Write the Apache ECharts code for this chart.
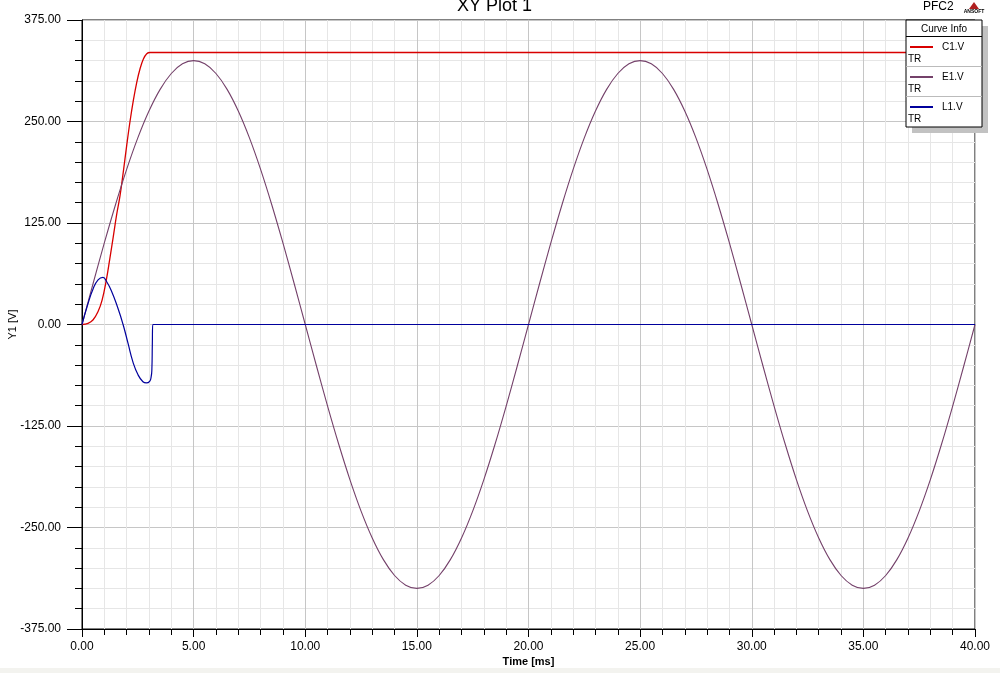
<!DOCTYPE html>
<html><head><meta charset="utf-8">
<script src="https://cdn.jsdelivr.net/npm/echarts@6/dist/echarts.min.js"></script>
<style>html,body{margin:0;padding:0;background:#fff}#c{width:1000px;height:673px}</style>
</head><body><div id="c"></div>
<script>
// ---- data ----
const xTicks = [0, 5, 10, 15, 20, 25, 30, 35, 40];            // Time [ms]
const yTicks = [-375, -250, -125, 0, 125, 250, 375];          // Y1 [V]
const seriesNames = ['C1.V', 'E1.V', 'L1.V'];

// C1.V (capacitor voltage)
const c1Time   = [0, 0.27, 0.49, 0.72, 0.9, 1.09, 1.24, 1.4, 1.55, 1.7, 1.85, 2.0, 2.15, 2.3, 2.45, 2.6, 2.75, 2.9, 3.05, 3.2, 40];
const c1Values = [0, 1.5, 5.5, 16, 30, 55, 80, 108, 135, 158, 188, 220, 250, 276, 298, 315, 327, 333.5, 335, 335, 335];

// E1.V (source voltage), sampled every 0.5 ms from 0 to 40 ms
const e1Step = 0.5;
const e1Values = [
  0, 50.8, 100.4, 147.5, 191.0, 229.8, 262.9, 289.6, 309.1, 321.0,
  325.0, 321.0, 309.1, 289.6, 262.9, 229.8, 191.0, 147.5, 100.4, 50.8,
  0, -50.8, -100.4, -147.5, -191.0, -229.8, -262.9, -289.6, -309.1, -321.0,
  -325.0, -321.0, -309.1, -289.6, -262.9, -229.8, -191.0, -147.5, -100.4, -50.8,
  0, 50.8, 100.4, 147.5, 191.0, 229.8, 262.9, 289.6, 309.1, 321.0,
  325.0, 321.0, 309.1, 289.6, 262.9, 229.8, 191.0, 147.5, 100.4, 50.8,
  0, -50.8, -100.4, -147.5, -191.0, -229.8, -262.9, -289.6, -309.1, -321.0,
  -325.0, -321.0, -309.1, -289.6, -262.9, -229.8, -191.0, -147.5, -100.4, -50.8,
  0
];

// L1.V (inductor voltage)
const l1Time   = [0, 0.25, 0.5, 0.72, 0.94, 1.1, 1.31, 1.61, 1.84, 2.06, 2.28, 2.51, 2.73, 2.88, 3.03, 3.1, 3.13, 3.15, 3.17, 40];
const l1Values = [0, 24, 44, 55, 58, 53, 42, 20, 0, -23, -46, -62, -70.5, -72, -70, -64, -55, -25, 0, 0];

// ---- build ----
const zip = (t, v) => t.map((x, i) => [x, v[i]]);
const e1Data = e1Values.map((v, i) => [i * e1Step, v]);

const chart = echarts.init(document.getElementById('c'), null, {renderer: 'canvas'});
const FONT = 'Arial, "Liberation Sans", sans-serif';

chart.setOption({
  animation: false,
  backgroundColor: '#ffffff',
  title: {
    text: 'XY Plot 1', left: 457, top: -3, padding: 0,
    textStyle: {fontFamily: FONT, fontSize: 18, fontWeight: 'normal', color: '#000'}
  },
  grid: {left: 82, right: 25, top: 20, bottom: 44, containLabel: false, outerBoundsMode: 'none',
         show: true, borderColor: '#000', borderWidth: 1, backgroundColor: '#fff'},
  legend: {
    orient: 'vertical', left: 910, top: 41, padding: 0,
    itemWidth: 23, itemHeight: 2, itemGap: 18, icon: 'rect', selectedMode: false,
    textStyle: {fontFamily: FONT, fontSize: 10, color: '#000', lineHeight: 12, padding: [0, 0, 0, 4]},
    data: seriesNames, z: 6
  },
  xAxis: {
    type: 'value', min: xTicks[0], max: xTicks[xTicks.length - 1], interval: xTicks[1] - xTicks[0],
    name: 'Time [ms]', nameLocation: 'middle', nameGap: 27, nameMoveOverlap: false,
    nameTextStyle: {fontFamily: FONT, fontSize: 11, fontWeight: 'bold', color: '#000'},
    axisLine: {show: true, onZero: false, lineStyle: {color: '#000', width: 1}},
    axisTick: {show: true, inside: false, length: 8, lineStyle: {color: '#000'}},
    minorTick: {show: true, splitNumber: 5, length: 6, lineStyle: {color: '#000'}},
    splitLine: {show: true, lineStyle: {color: '#c6c6c6', width: 1}},
    minorSplitLine: {show: true, lineStyle: {color: '#e6e6e6', width: 1}},
    axisLabel: {formatter: v => v.toFixed(2), margin: 12, fontFamily: FONT, fontSize: 12, color: '#000'}
  },
  yAxis: {
    type: 'value', min: yTicks[0], max: yTicks[yTicks.length - 1], interval: yTicks[1] - yTicks[0],
    name: 'Y1 [V]', nameLocation: 'middle', nameGap: 64, nameRotate: 90, nameMoveOverlap: false,
    nameTextStyle: {fontFamily: FONT, fontSize: 11, color: '#000'},
    axisLine: {show: true, onZero: false, lineStyle: {color: '#000', width: 1}},
    axisTick: {show: true, inside: false, length: 15, lineStyle: {color: '#000'}},
    minorTick: {show: true, splitNumber: 5, length: 7, lineStyle: {color: '#000'}},
    splitLine: {show: true, lineStyle: {color: '#c6c6c6', width: 1}},
    minorSplitLine: {show: true, lineStyle: {color: '#e6e6e6', width: 1}},
    axisLabel: {formatter: v => v.toFixed(2), margin: 21, fontFamily: FONT, fontSize: 12, color: '#000'}
  },
  series: [
    {name: seriesNames[0], type: 'line', data: zip(c1Time, c1Values), showSymbol: false,
     smooth: 0.4, color: '#d80000', lineStyle: {width: 1.3, color: '#d80000'}, z: 2},
    {name: seriesNames[1], type: 'line', data: e1Data, showSymbol: false,
     smooth: 0.4, color: '#74416a', lineStyle: {width: 1.1, color: '#74416a'}, z: 3},
    {name: seriesNames[2], type: 'line', data: zip(l1Time, l1Values), showSymbol: false,
     smooth: 0.5, color: '#00009c', lineStyle: {width: 1.2, color: '#00009c'}, z: 4}
  ],
  graphic: [
    {type: 'rect', shape: {x: 0, y: 668, width: 1000, height: 5}, style: {fill: '#f3f3ef'}, z: 0, silent: true},
    {type: 'text', x: 923, y: 7, style: {text: 'PFC2', font: '12px ' + FONT, fill: '#000', textVerticalAlign: 'middle'}, z: 10},
    {type: 'polygon', shape: {points: [[974, 2], [969, 9], [979, 9]]}, style: {fill: '#b02020'}, z: 10},
    {type: 'text', x: 974, y: 12, style: {text: 'ANSOFT', font: 'bold 5px ' + FONT, fill: '#000', textAlign: 'center', textVerticalAlign: 'middle'}, z: 10},
    {type: 'rect', shape: {x: 912, y: 26, width: 76, height: 107}, style: {fill: '#c2c2c2'}, z: 5},
    {type: 'rect', shape: {x: 906, y: 20, width: 76, height: 107}, style: {fill: '#fff', stroke: '#000', lineWidth: 1}, z: 5},
    {type: 'text', x: 944, y: 29, style: {text: 'Curve Info', font: '10px ' + FONT, fill: '#000', textAlign: 'center', textVerticalAlign: 'middle'}, z: 7},
    {type: 'line', shape: {x1: 906, y1: 36.5, x2: 982, y2: 36.5}, style: {stroke: '#000', lineWidth: 1}, z: 7},
    {type: 'line', shape: {x1: 906, y1: 66.5, x2: 982, y2: 66.5}, style: {stroke: '#bbb', lineWidth: 1}, z: 7},
    {type: 'line', shape: {x1: 906, y1: 96.5, x2: 982, y2: 96.5}, style: {stroke: '#bbb', lineWidth: 1}, z: 7},
    {type: 'text', x: 908, y: 59, style: {text: 'TR', font: '10px ' + FONT, fill: '#000', textVerticalAlign: 'middle'}, z: 7},
    {type: 'text', x: 908, y: 89, style: {text: 'TR', font: '10px ' + FONT, fill: '#000', textVerticalAlign: 'middle'}, z: 7},
    {type: 'text', x: 908, y: 119, style: {text: 'TR', font: '10px ' + FONT, fill: '#000', textVerticalAlign: 'middle'}, z: 7}
  ]
});
</script>
</body></html>
